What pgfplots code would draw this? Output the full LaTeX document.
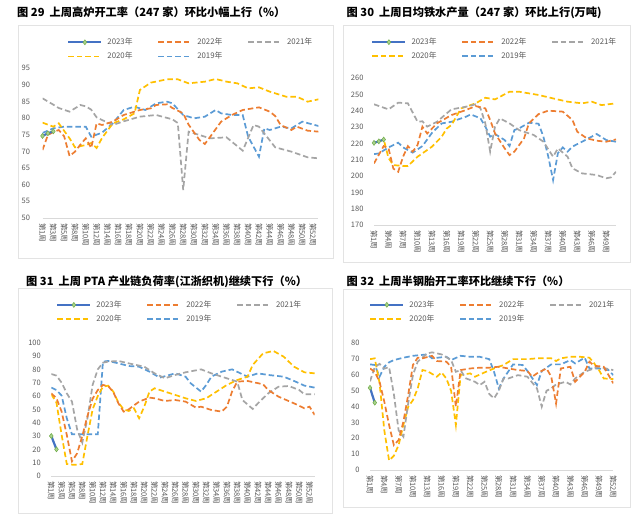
\documentclass[border=0pt]{standalone}
\usepackage{fontspec}
\setmainfont{Noto Sans CJK SC}
\usepackage{pgfplots}
\pgfplotsset{compat=1.18}
\definecolor{cA}{HTML}{4472C4}
\definecolor{cB}{HTML}{ED7D31}
\definecolor{cC}{HTML}{A5A5A5}
\definecolor{cD}{HTML}{FFC000}
\definecolor{cE}{HTML}{5B9BD5}
\definecolor{mkf}{HTML}{A9D18E}
\definecolor{mkd}{HTML}{70AD47}
\definecolor{lg}{HTML}{595959}
\definecolor{axg}{HTML}{D9D9D9}
\definecolor{frm}{HTML}{E3E3E3}
\pgfplotsset{
  base/.style={
    scale only axis, anchor=south west,
    axis x line*=bottom, axis y line*=left,
    y axis line style={draw=none},
    x axis line style={draw=axg, line width=0.8pt, -},
    major tick length=0pt,
    xtick style={draw=none}, ytick style={draw=none},
    tick label style={font=\fontsize{7.5}{8}\selectfont, text=lg},
    x tick label style={rotate=-90, anchor=west},
    xticklabel shift=1.5pt,
    yticklabel style={xshift=-7pt},
    /pgf/number format/assume math mode=true,
    legend columns=3, reverse legend,
    legend cell align=left,
    legend image code/.code={\draw[mark repeat=2,mark phase=2,##1] plot coordinates {(0pt,0pt) (16.5pt,0pt) (33pt,0pt)};},
    legend style={draw=none, fill=none, inner sep=0pt, anchor=north west,
      font=\fontsize{7.8}{8}\selectfont, text=lg, row sep=2pt,
      /tikz/every odd column/.append style={column sep=3pt},
      /tikz/every even column/.append style={column sep=23pt}},
  },
  s23/.style={color=cA, solid, line width=2.2pt, mark=diamond*, mark size=2.5pt, mark options={solid, fill=mkf, draw=mkd, line width=0.5pt}},
  s22/.style={draw=cB, color=cB, line width=1.7pt, dash pattern=on 5.5pt off 3pt, no markers},
  s21/.style={draw=cC, color=cC, line width=1.7pt, dash pattern=on 5.5pt off 3pt, no markers},
  s20/.style={draw=cD, color=cD, line width=1.7pt, dash pattern=on 5.5pt off 3pt, no markers},
  s19/.style={draw=cE, color=cE, line width=1.7pt, dash pattern=on 5.5pt off 3pt, no markers},
}
\begin{document}
\begin{tikzpicture}[x=1pt,y=1pt]
\useasboundingbox (0,0) rectangle (640,522);
\fill[white] (0,0) rectangle (640,522);
\draw[frm, line width=0.7pt] (18,264) rectangle (333,497);
\draw[frm, line width=0.7pt] (343,260) rectangle (630,497);
\draw[frm, line width=0.7pt] (18,9) rectangle (332,234);
\draw[frm, line width=0.7pt] (343,15) rectangle (630,233);
\node[anchor=base west, inner sep=0pt, font=\fontsize{11.2}{12}\selectfont\bfseries] at (17,505) {图 29\ \ 上周高炉开工率（247 家）环比小幅上行（\%）};
\node[anchor=base west, inner sep=0pt, font=\fontsize{11.2}{12}\selectfont\bfseries] at (346.5,505) {图 30\ \ 上周日均铁水产量（247 家）环比上行(万吨)};
\node[anchor=base west, inner sep=0pt, font=\fontsize{11.2}{12}\selectfont\bfseries] at (26,236) {图 31\ \ 上周 PTA 产业链负荷率(江浙织机)继续下行（\%）};
\node[anchor=base west, inner sep=0pt, font=\fontsize{11.2}{12}\selectfont\bfseries] at (346.5,236) {图 32\ \ 上周半钢胎开工率环比继续下行（\%）};

% ---------- Chart 1
\begin{axis}[base, at={(42.5pt,304pt)}, width=276pt, height=150pt,
  xmin=1, xmax=52, ymin=50, ymax=95, ytick={50,55,...,95},
  xtick={1,3,...,51},
  xticklabels={第1周,第3周,第5周,第8周,第10周,第12周,第14周,第16周,第18周,第20周,第22周,第24周,第26周,第28周,第30周,第32周,第34周,第36周,第38周,第40周,第42周,第44周,第46周,第48周,第50周,第52周},
  yticklabel style={xshift=-2pt},
  legend style={at={(0.089,1.213)}}]
\addplot[s19] coordinates {(1,75.5)(2,76.2)(3,76.9)(5,77.4)(9,77.4)(10,74.4)(12,75.6)(14,78.4)(16,82.4)(18,83.4)(20,82.4)(22,84.4)(24,84.9)(25,84.4)(27,80.9)(29,79.9)(31,80.4)(33,82.4)(34,81.4)(36,80.9)(38,80.9)(39,74.4)(41,68.4)(42,76.9)(43,76.4)(45,77.4)(47,76.9)(49,78.9)(52,77.6)};
\addlegendentry{2019年}
\addplot[s20] coordinates {(1,78.6)(3,77.4)(4,78.4)(6,73.9)(7,71.2)(9,71.9)(10,72.5)(11,71)(12,74)(14,78.4)(16,79.6)(18,81.4)(19,88.4)(21,90.6)(24,91.6)(26,91.6)(28,90.4)(31,90.9)(33,91.7)(35,90.9)(37,90.4)(39,88.9)(41,89.2)(43,87.9)(46,86.4)(48,86.4)(50,84.9)(52,85.6)};
\addlegendentry{2020年}
\addplot[s21] coordinates {(1,85.9)(3,84)(4,83)(6,81.9)(8,83.9)(9,83.5)(10,82.5)(11,80.2)(12,79.4)(14,77.9)(16,79)(19,80.4)(22,80.9)(25,79.6)(26,78.5)(27,58.4)(28,75.9)(30,74.9)(32,73.9)(35,74.2)(38,70.2)(40,77.9)(41,77.4)(44,71.2)(47,69.9)(50,68.2)(52,67.9)};
\addlegendentry{2021年}
\addplot[s22] coordinates {(1,70.4)(2,74.9)(3,75.8)(4,76.4)(5,74.5)(6,68.6)(7,69.9)(8,72)(9,73.9)(10,71)(11,78.4)(12,77.9)(14,78.9)(16,80.9)(19,82.4)(21,82.9)(22,83.9)(24,84.1)(25,83)(27,81.4)(28,78)(30,73.4)(31,72.2)(32,74.4)(34,78.9)(36,80.9)(38,82.4)(41,83.2)(43,81.9)(44,80.6)(45,77.9)(47,76.4)(48,77.4)(50,76.2)(52,75.9)};
\addlegendentry{2022年}
\addplot[s23] coordinates {(1,74.6)(2,75.4)(3,76.0)};
\addlegendentry{2023年}
\end{axis}

% ---------- Chart 2
\begin{axis}[base, at={(374pt,297pt)}, width=242pt, height=147pt,
  xmin=1, xmax=51, ymin=170, ymax=260, ytick={170,180,...,260},
  xtick={1,4,...,49},
  xticklabels={第1周,第4周,第7周,第10周,第13周,第16周,第19周,第22周,第25周,第28周,第31周,第34周,第37周,第40周,第43周,第46周,第49周},
  legend style={at={(-0.012,1.286)}}]
\addplot[s19] coordinates {(1,213.4)(2,213.8)(4,217.5)(6,220.4)(7,217.5)(9,214.3)(11,218.3)(13,226.5)(15,232.2)(17,233.2)(20,236.3)(21,237.7)(23,235.3)(24,230.2)(25,224.1)(26,225.7)(28,222)(29,218.3)(30,228.1)(31,229.2)(33,232.6)(35,232)(36,224.1)(37,212)(38,197.5)(39,214)(40,217.5)(41,214.9)(42,218)(44,221)(47,225.7)(49,222)(51,221)};
\addlegendentry{2019年}
\addplot[s20] coordinates {(2,221)(3,222.5)(4,211)(5,206.7)(7,206.1)(8,206.1)(10,211.8)(13,218)(15,224.1)(16,229)(17,231.2)(19,241.4)(22,244.5)(24,247.9)(26,246.9)(29,251.6)(31,251.6)(33,250.6)(35,249.6)(38,247.5)(41,245.5)(44,244.5)(46,245.5)(48,243.4)(51,244.5)};
\addlegendentry{2020年}
\addplot[s21] coordinates {(1,243.9)(4,240.8)(6,244.9)(8,244.5)(10,233.2)(11,233.5)(12,230.2)(14,233.2)(17,240.8)(20,242.4)(22,243.9)(23,241.4)(24,232.2)(25,214.9)(26,230.2)(27,235.3)(29,232.2)(31,228.1)(34,225.1)(36,221)(38,211.8)(39,216.9)(41,211.8)(42,204.7)(44,201.6)(47,200.6)(49,198.6)(50,199.2)(51,202.6)};
\addlegendentry{2021年}
\addplot[s22] coordinates {(1,207.7)(3,218.3)(4,217)(5,204.5)(6,202.6)(7,211.8)(8,218.3)(9,214.9)(10,219)(11,230.2)(12,226)(14,232.2)(17,237.3)(20,240.4)(22,242.8)(24,241.4)(25,234.3)(26,226.1)(28,216.9)(29,212.8)(30,214.9)(32,223)(33,232.2)(35,237.9)(37,240)(40,239.4)(42,234.3)(43,227.1)(45,223)(47,221.6)(49,221)(51,222.4)};
\addlegendentry{2022年}
\addplot[s23] coordinates {(1,220.3)(2,221.2)(3,222.3)};
\addlegendentry{2023年}
\end{axis}

% ---------- Chart 3
\begin{axis}[base, at={(51.3pt,46pt)}, width=263.4pt, height=133.3pt,
  xmin=1, xmax=52, ymin=0, ymax=100, ytick={0,10,...,100},
  xtick={1,3,...,51},
  xticklabels={第1周,第3周,第5周,第8周,第10周,第12周,第14周,第16周,第18周,第20周,第22周,第24周,第26周,第28周,第30周,第32周,第34周,第36周,第38周,第40周,第42周,第44周,第46周,第48周,第50周,第52周},
  legend style={at={(0.018,1.33)}}]
\addplot[s19] coordinates {(1,66.3)(2,64.5)(3,60.3)(4,43.3)(5,31.3)(6,31.3)(8,31.3)(10,31.3)(11,85.8)(12,86.3)(14,84.5)(16,82.5)(18,82)(20,78.3)(22,73.8)(25,77)(27,74.5)(28,69.5)(30,63.3)(31,68.3)(32,74.5)(34,78.3)(36,80)(39,74.5)(41,77)(43,75.8)(46,74.5)(48,71.3)(50,67.8)(52,66.3)};
\addlegendentry{2019年}
\addplot[s20] coordinates {(1,61.3)(2,55)(3,30.8)(4,9)(5,8.5)(6,8.5)(7,9)(8,30)(9,50)(10,60)(11,67)(12,67.8)(13,63.3)(14,55)(15,50)(16,48.8)(17,50.8)(18,43.3)(19,52)(20,63.3)(21,65.8)(23,63.3)(25,60.8)(27,58.3)(29,56.3)(31,58.3)(33,63.3)(35,68.3)(37,72)(39,74.5)(40,83.3)(42,92)(44,93.8)(46,89.5)(48,82)(50,77.8)(52,77)};
\addlegendentry{2020年}
\addplot[s21] coordinates {(1,76.5)(2,75.3)(3,70)(4,62)(5,55.8)(6,35)(7,25)(8,43.3)(9,68.3)(10,80)(11,85)(12,85.8)(14,86.3)(16,84.5)(19,82)(21,77)(23,73.3)(25,75.8)(27,77.8)(30,80)(32,77)(34,74.5)(37,70.8)(38,57)(40,50.3)(41,54.5)(43,62)(45,67)(47,67.5)(49,64.5)(50,61.3)(52,61.3)};
\addlegendentry{2021年}
\addplot[s22] coordinates {(1,62)(2,58.3)(3,48.3)(4,30.8)(5,11)(6,17)(7,30)(8,45)(9,58)(10,64.5)(11,68.3)(12,67.5)(13,63)(14,54.5)(15,48.3)(16,50)(18,55.8)(20,58.8)(21,58.3)(23,56.3)(25,57)(27,55.8)(29,51.3)(30,52)(32,49.5)(34,48.3)(35,52)(36,63.3)(37,70.8)(39,71.3)(42,68.8)(43,64.5)(45,59.5)(48,54.5)(50,50.8)(51,52)(52,45.8)};
\addlegendentry{2022年}
\addplot[s23] coordinates {(1,30)(2,20)};
\addlegendentry{2023年}
\end{axis}

% ---------- Chart 4
\begin{axis}[base, at={(370pt,52pt)}, width=243.3pt, height=126.7pt,
  xmin=1, xmax=52, ymin=0, ymax=80, ytick={0,10,...,80},
  xtick={1,4,...,52},
  xticklabels={第1周,第4周,第7周,第10周,第13周,第16周,第19周,第22周,第25周,第28周,第31周,第34周,第37周,第40周,第43周,第46周,第49周,第52周},
  legend style={at={(-0.004,1.353)}}]
\addplot[s19] coordinates {(1,66.7)(2,66.3)(3,58.9)(4,65.2)(5,68)(6,69.4)(8,70.9)(10,72.1)(13,73)(14,70.5)(17,71.5)(18,69.4)(20,72.1)(22,71.5)(24,71.5)(26,70)(27,62)(28,51.5)(29,57.8)(31,66.7)(33,66.3)(34,62.5)(36,53.6)(37,62.5)(39,66.7)(41,66.7)(43,69.4)(44,67.3)(46,70.9)(47,64.1)(49,64.1)(51,63.1)(52,59.9)};
\addlegendentry{2019年}
\addplot[s20] coordinates {(1,70)(2,70.5)(3,55)(4,25)(5,6)(6,9)(7,15.7)(8,28.4)(9,39.9)(10,44.1)(11,51.5)(12,63.1)(13,62.5)(15,58.9)(16,61.6)(17,57.8)(18,50)(19,28.4)(20,60)(22,61)(23,58.9)(25,61.6)(27,64.1)(29,66.3)(31,70)(34,70)(36,70.5)(39,70.5)(40,68.8)(41,70.5)(43,71.5)(45,71.5)(47,70.9)(48,67.3)(49,63.1)(50,57.8)(52,57.4)};
\addlegendentry{2020年}
\addplot[s21] coordinates {(1,56)(2,65)(3,67)(4,64)(5,65)(6,48)(7,25)(8,21)(9,42)(10,60)(11,68.4)(13,73.6)(14,74.3)(16,73)(18,69.4)(19,62)(20,63)(21,58)(23,55.7)(24,53.6)(25,55.7)(26,48)(27,45.2)(28,50)(29,57.8)(30,57.8)(32,59.9)(34,58.9)(36,51.5)(37,40)(38,50)(39,51.5)(40,54)(42,55.7)(43,54)(44,57.8)(46,62)(47,63.1)(49,65.2)(51,63.7)(52,63.1)};
\addlegendentry{2021年}
\addplot[s22] coordinates {(1,64.1)(2,62)(3,55.7)(4,43.1)(5,28.4)(6,15.7)(7,18.9)(8,30.5)(9,47.3)(10,66.3)(11,70.9)(12,70.5)(14,72.1)(15,68.8)(17,68.4)(18,65.2)(19,40)(20,63.1)(22,64.1)(24,64.6)(26,64.6)(28,65.2)(30,64.1)(32,63.1)(34,62.5)(35,58.9)(36,61)(38,64.1)(39,58.9)(40,42)(41,64.1)(43,65.2)(44,55.7)(46,62)(47,68.4)(48,65.8)(50,65.2)(52,54.7)};
\addlegendentry{2022年}
\addplot[s23] coordinates {(1,51.9)(2,42.5)};
\addlegendentry{2023年}
\end{axis}
\end{tikzpicture}
\end{document}
